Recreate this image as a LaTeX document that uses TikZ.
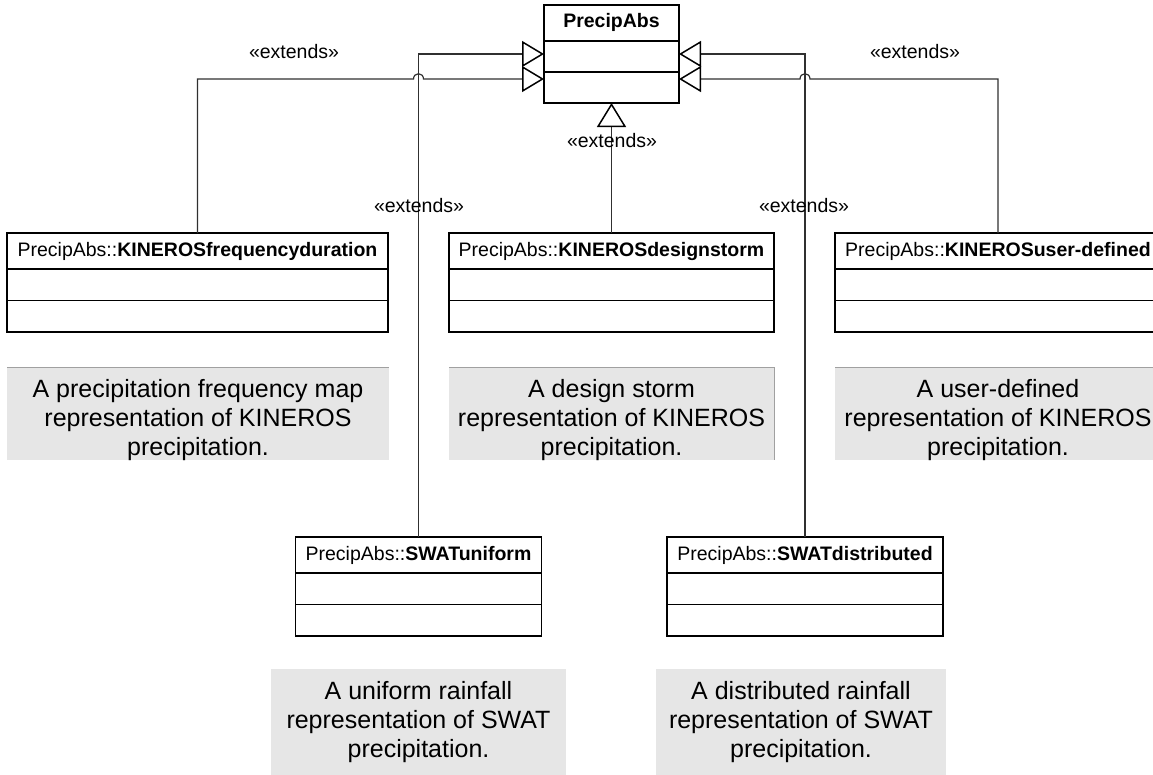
\documentclass[tikz,border=0pt]{standalone}
\usepackage{fontspec}
\setmainfont{Liberation Sans}
\usetikzlibrary{arrows.meta,calc}
\definecolor{notegray}{HTML}{E6E6E6}
\definecolor{noteline}{HTML}{A0A0A0}
\definecolor{linec}{HTML}{303030}
\newcommand{\clsfont}{\fontsize{19.5bp}{23bp}\selectfont}
\newcommand{\notefont}{\fontsize{25bp}{29bp}\selectfont}
\tikzset{
  cls/.style={draw=black, line width=1.6bp, fill=white, minimum height=36bp,
    text height=14bp, text depth=4bp, inner sep=0pt, outer sep=0pt, font=\clsfont},
  comp/.style={draw=black, line width=1.6bp, fill=white, minimum height=31.5bp,
    inner sep=0pt, outer sep=0pt, anchor=north},
  notebox/.style={fill=notegray, inner sep=0pt, outer sep=0pt},
  notetext/.style={align=center, font=\notefont, inner sep=0pt},
  noteedge/.style={draw=noteline, line width=1bp},
  gen/.style={draw=linec, line width=1.2bp,
    -{Triangle[open, length=22bp, width=26bp, fill=white, color=black, line width=1.5bp]}},
  genv/.style={draw=linec, line width=1.2bp,
    -{Triangle[open, length=24bp, width=29bp, fill=white, color=black, line width=1.5bp]}},
  lbl/.style={font=\clsfont, inner sep=0pt}
}
\begin{document}
\begin{tikzpicture}[x=1bp,y=-1bp]
\useasboundingbox (0,0) rectangle (1153,775);

% superclass
\node[cls, minimum width=135bp] (pa) at (611.5,23) {\textbf{PrecipAbs}};
\node[comp, minimum width=135bp, minimum height=31bp] (pa1) at (pa.south) {};
\node[comp, minimum width=135bp, minimum height=31bp] (pa2) at (pa1.south) {};

% subclasses
\node[cls, minimum width=381bp] (kfd) at (197.5,251) {PrecipAbs::\textbf{KINEROSfrequencyduration}};
\node[comp, minimum width=381bp] (kfd1) at (kfd.south) {};
\node[comp, minimum width=381bp] (kfd2) at (kfd1.south) {};

\node[cls, minimum width=325bp] (kds) at (611.5,251) {PrecipAbs::\textbf{KINEROSdesignstorm}};
\node[comp, minimum width=325bp] (kds1) at (kds.south) {};
\node[comp, minimum width=325bp] (kds2) at (kds1.south) {};

\node[cls, minimum width=326bp] (kud) at (998,251) {PrecipAbs::\textbf{KINEROSuser-defined}};
\node[comp, minimum width=326bp] (kud1) at (kud.south) {};
\node[comp, minimum width=326bp] (kud2) at (kud1.south) {};

\node[cls, minimum width=246bp] (swu) at (418.5,555) {PrecipAbs::\textbf{SWATuniform}};
\node[comp, minimum width=246bp] (swu1) at (swu.south) {};
\node[comp, minimum width=246bp] (swu2) at (swu1.south) {};

\node[cls, minimum width=276bp] (swd) at (805,555) {PrecipAbs::\textbf{SWATdistributed}};
\node[comp, minimum width=276bp] (swd1) at (swd.south) {};
\node[comp, minimum width=276bp] (swd2) at (swd1.south) {};

% notes
\node[notebox, minimum width=382bp, minimum height=93bp] (n1) at (198,413.5) {};
\draw[noteedge] (n1.north west) -- (n1.north east);
\node[notetext] (n1t) at (198,420) {A precipitation frequency map\\representation of KINEROS\\precipitation.};

\node[notebox, minimum width=325bp, minimum height=93bp] (n2) at (611.5,413.5) {};
\draw[noteedge] (n2.north west) -- (n2.north east) -- (n2.south east);
\node[notetext] (n2t) at (611.5,420) {A design storm\\representation of KINEROS\\precipitation.};

\node[notebox, minimum width=326bp, minimum height=93bp] (n3) at (998,413.5) {};
\draw[noteedge] (n3.north west) -- (n3.north east);
\node[notetext] (n3t) at (998,420) {A user-defined\\representation of KINEROS\\precipitation.};

\node[notebox, minimum width=295bp, minimum height=111bp] (n4) at (418.5,724.5) {};
\node[notetext] (n4t) at (418.5,722) {A uniform rainfall\\representation of SWAT\\precipitation.};

\node[notebox, minimum width=290bp, minimum height=111bp] (n5) at (801,724.5) {};
\node[notetext] (n5t) at (801,722) {A distributed rainfall\\representation of SWAT\\precipitation.};

% arrow ends on the superclass
\coordinate (aL1) at (pa.west |- 0,54);
\coordinate (aL2) at (pa.west |- 0,79);
\coordinate (aR1) at (pa.east |- 0,54);
\coordinate (aR2) at (pa.east |- 0,79);
\coordinate (hopL) at (swu.north |- aL2);
\coordinate (hopR) at (swd.north |- aR2);

% connectors
\draw[gen] (kfd.north) -- (kfd.north |- aL2) -- ($(hopL)+(-5,0)$)
  .. controls ($(hopL)+(-5,-7)$) and ($(hopL)+(5,-7)$) .. ($(hopL)+(5,0)$) -- (aL2);
\draw[gen] (swu.north) -- (swu.north |- aL1) -- (aL1);
\draw[gen] (swd.north) -- (swd.north |- aR1) -- (aR1);
\draw[gen] (kud.north) -- (kud.north |- aR2) -- ($(hopR)+(5,0)$)
  .. controls ($(hopR)+(5,-7)$) and ($(hopR)+(-5,-7)$) .. ($(hopR)+(-5,0)$) -- (aR2);
\draw[genv] (kds.north) -- (pa2.south);

% labels
\node[lbl] (e1) at (294,52) {«extends»};
\node[lbl] (e2) at (915,52) {«extends»};
\node[lbl] (e3) at (612,141) {«extends»};
\node[lbl] (e4) at (419,206) {«extends»};
\node[lbl] (e5) at (804,206) {«extends»};
\end{tikzpicture}
\end{document}
